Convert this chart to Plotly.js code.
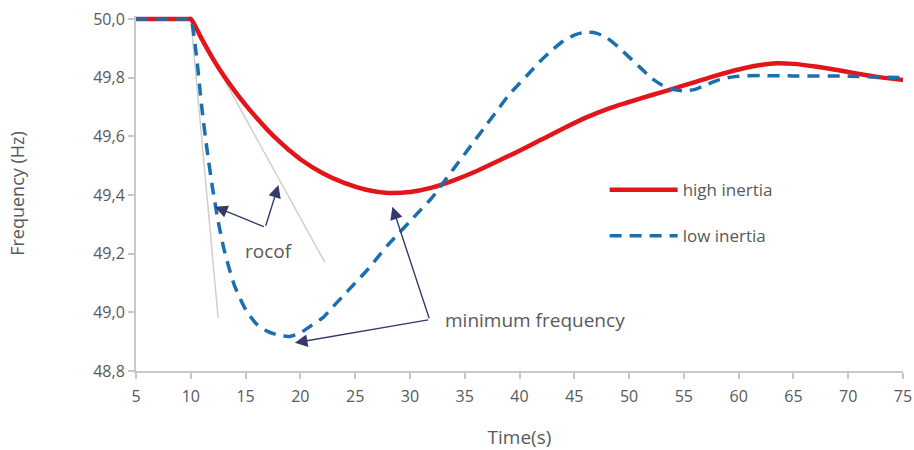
<!DOCTYPE html>
<html>
<head>
<meta charset="utf-8">
<script src="https://cdn.plot.ly/plotly-3.0.1.min.js"></script>
<style>html,body{margin:0;padding:0;background:#fff;}#chart{width:914px;height:450px;}</style>
</head>
<body>
<div id="chart"></div>
<script>
// ---- data ----
const highTime = [5, 9.8, 10, 11, 12, 13, 14, 15, 16, 17, 18, 19, 20, 22, 24, 26, 28, 30, 32, 34, 36, 38, 40, 42, 44, 46, 48, 50, 52, 54, 56, 58, 60, 62, 63.5, 65, 67, 69, 71, 73, 75];
const highFreq = [50.0, 50.0, 50.0, 49.932, 49.866, 49.807, 49.755, 49.707, 49.663, 49.622, 49.585, 49.552, 49.522, 49.475, 49.441, 49.418, 49.407, 49.41, 49.425, 49.45, 49.48, 49.515, 49.551, 49.589, 49.627, 49.663, 49.693, 49.717, 49.74, 49.762, 49.785, 49.808, 49.828, 49.843, 49.849, 49.847, 49.838, 49.826, 49.813, 49.801, 49.792];

const lowTime = [5, 9.8, 10, 10.5, 11, 11.5, 12, 12.5, 13, 13.5, 14, 15, 16, 17, 18, 19, 20, 21, 22, 23, 24, 25, 26, 27, 28, 29, 30, 31, 32, 33, 34, 35, 36, 37, 38, 39, 40, 41, 42, 43, 44, 45, 46, 47, 48, 49, 50, 51, 52, 53, 54, 55, 56, 57, 58, 59, 60, 62, 65, 70, 75];
const lowFreq = [50.0, 50.0, 50.0, 49.88, 49.70, 49.55, 49.42, 49.31, 49.22, 49.15, 49.09, 49.01, 48.96, 48.935, 48.922, 48.918, 48.93, 48.955, 48.98, 49.02, 49.06, 49.10, 49.14, 49.185, 49.23, 49.27, 49.31, 49.35, 49.39, 49.44, 49.49, 49.54, 49.59, 49.64, 49.69, 49.74, 49.78, 49.82, 49.86, 49.895, 49.925, 49.945, 49.955, 49.952, 49.935, 49.905, 49.87, 49.835, 49.80, 49.775, 49.76, 49.755, 49.76, 49.775, 49.79, 49.80, 49.805, 49.807, 49.806, 49.805, 49.80];

const rocofLineLowTime = [10, 12.5];
const rocofLineLowFreq = [50.0, 48.98];
const rocofLineHighTime = [10, 22.24];
const rocofLineHighFreq = [50.0, 49.17];

const rocofArrowTail = [16.8, 49.29];
const rocofArrowHeads = [[12.2, 49.36], [18.0, 49.434]];
const minArrowTail = [31.8, 48.975];
const minArrowHeads = [[19.5, 48.896], [28.4, 49.36]];

const rocofLabel = {text: 'rocof', x: 17.1, y: 49.21};
const minLabel = {text: 'minimum frequency', x: 33.0, y: 48.975};

const seriesNames = ['high inertia', 'low inertia'];
const xTicks = [5, 10, 15, 20, 25, 30, 35, 40, 45, 50, 55, 60, 65, 70, 75];
const yTicks = [48.8, 49.0, 49.2, 49.4, 49.6, 49.8, 50.0];
const yRange = [48.8, 50.0102];

// ---- chart ----
const FONT = 'Open Sans, sans-serif';
const TXT = '#595959';
const ARROW = '#343b6b';

const traces = [
  {x: rocofLineLowTime, y: rocofLineLowFreq, mode: 'lines', line: {color: '#cfcfcf', width: 1.5}, showlegend: false, hoverinfo: 'skip'},
  {x: rocofLineHighTime, y: rocofLineHighFreq, mode: 'lines', line: {color: '#cfcfcf', width: 1.5}, showlegend: false, hoverinfo: 'skip'},
  {x: highTime, y: highFreq, name: seriesNames[0], legendgroup: 'a', mode: 'lines', line: {color: '#e3151b', width: 4.5, shape: 'spline', smoothing: 0.8}, cliponaxis: false},
  {x: lowTime, y: lowFreq, name: seriesNames[1], legendgroup: 'b', mode: 'lines', line: {color: '#1b6fae', width: 3.5, dash: '12px,8px', shape: 'spline', smoothing: 0.6}, cliponaxis: false}
];

const annotations = [];
function arrows(tail, heads) {
  heads.forEach(h => annotations.push({
    x: h[0], y: h[1], xref: 'x', yref: 'y', ax: tail[0], ay: tail[1], axref: 'x', ayref: 'y',
    text: '', showarrow: true, arrowhead: 2, arrowsize: 1.8, arrowwidth: 1.4, arrowcolor: ARROW
  }));
}
arrows(rocofArrowTail, rocofArrowHeads);
arrows(minArrowTail, minArrowHeads);
annotations.push({x: rocofLabel.x, y: rocofLabel.y, xref: 'x', yref: 'y', text: rocofLabel.text, showarrow: false, font: {family: FONT, size: 19, color: TXT}});
annotations.push({x: minLabel.x, y: minLabel.y, xref: 'x', yref: 'y', text: minLabel.text, showarrow: false, xanchor: 'left', font: {family: FONT, size: 19, color: TXT}});

const layout = {
  width: 914, height: 450,
  margin: {l: 136, r: 11, t: 16, b: 79},
  paper_bgcolor: '#ffffff', plot_bgcolor: '#ffffff',
  separators: ',.',
  font: {family: FONT, color: TXT, size: 16},
  showlegend: true,
  legend: {x: 0.611, y: 0.56, xanchor: 'left', yanchor: 'top', traceorder: 'grouped', tracegroupgap: 21,
           font: {family: FONT, size: 17, color: TXT}, bgcolor: 'rgba(0,0,0,0)', itemwidth: 68},
  xaxis: {
    range: [5, 75], tickvals: xTicks, showgrid: false, zeroline: false,
    showline: true, linecolor: '#c8c8c8', linewidth: 2,
    ticks: 'outside', ticklen: 6, tickcolor: '#c8c8c8', tickwidth: 2, ticklabelstandoff: 4,
    tickfont: {family: FONT, size: 16, color: TXT},
    title: {text: 'Time(s)', font: {family: FONT, size: 19, color: TXT}, standoff: 26}
  },
  yaxis: {
    range: yRange, tickvals: yTicks, tickformat: '.1f', showgrid: false, zeroline: false,
    showline: true, linecolor: '#c8c8c8', linewidth: 2,
    ticks: 'outside', ticklen: 6, tickcolor: '#c8c8c8', tickwidth: 2,
    tickfont: {family: FONT, size: 16, color: TXT},
    title: {text: 'Frequency (Hz)', font: {family: FONT, size: 18, color: TXT}, standoff: 64}
  },
  annotations: annotations
};

Plotly.newPlot('chart', traces, layout, {displayModeBar: false, staticPlot: true});
</script>
</body>
</html>
